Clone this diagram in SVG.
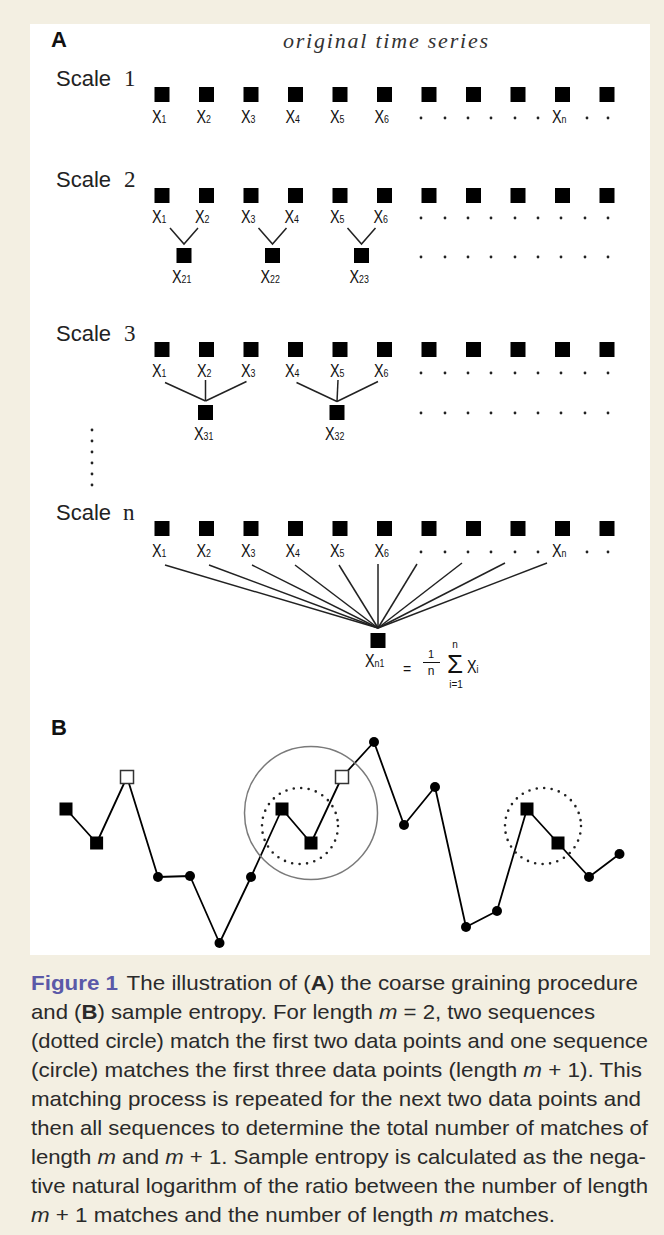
<svg xmlns="http://www.w3.org/2000/svg" xmlns:xlink="http://www.w3.org/1999/xlink" width="664" height="1235" viewBox="0 0 664 1235">
<style>
.lbl{font-family:"Liberation Sans",Arial,sans-serif;font-size:22px;fill:#222}
.num{font-family:"Liberation Serif","Times New Roman",serif;font-size:23px}
.xl{font-family:"Liberation Sans",Arial,sans-serif;font-size:18px;fill:#111}
.sub{font-size:11px}
.fm{font-family:"Liberation Sans",Arial,sans-serif;fill:#111}
.pan{font-family:"Liberation Sans",Arial,sans-serif;font-size:22px;font-weight:bold;fill:#111}
.cap{font-family:"Liberation Sans",Arial,sans-serif;font-size:21px;fill:#2a2a2a}
.fig{fill:#5b59a8;font-weight:bold}
.b{font-weight:bold}
.i{font-style:italic}
.ln{stroke:#222;stroke-width:1.5;fill:none}
</style>
<defs>
<rect id="s" x="-7.5" y="0" width="15" height="15" fill="#000"/>
<circle id="d" r="1.4" fill="#222"/>
<rect id="bs" x="-6.5" y="-6.5" width="13" height="13" fill="#000"/>
<rect id="bo" x="-6.5" y="-6.5" width="13" height="13" fill="#fff" stroke="#333" stroke-width="1.5"/>
<circle id="bc" r="5" fill="#000"/>
</defs>
<rect x="0" y="0" width="664" height="1235" fill="#f3efe2"/>
<rect x="30" y="24" width="620" height="931" fill="#ffffff"/>

<text class="pan" x="51" y="47">A</text>
<text x="283" y="48" font-family="Liberation Serif,Times New Roman,serif" font-style="italic" font-size="22" fill="#333" textLength="205" lengthAdjust="spacing">original time series</text>

<!-- Scale 1 -->
<g id="scale1">
<text class="lbl" x="56" y="86">Scale</text><text class="lbl num" x="124" y="86">1</text>
<g id="s1-nodes">
<use href="#s" x="162" y="87"/><use href="#s" x="206.5" y="87"/><use href="#s" x="251" y="87"/><use href="#s" x="295.5" y="87"/><use href="#s" x="340" y="87"/><use href="#s" x="384.5" y="87"/><use href="#s" x="429" y="87"/><use href="#s" x="473.5" y="87"/><use href="#s" x="518" y="87"/><use href="#s" x="562.5" y="87"/><use href="#s" x="607" y="87"/>
</g>
<g id="s1-labels">
<text class="xl" transform="matrix(0.8,0,0,1,152,123)">X<tspan class="sub">1</tspan></text>
<text class="xl" transform="matrix(0.8,0,0,1,196.5,123)">X<tspan class="sub">2</tspan></text>
<text class="xl" transform="matrix(0.8,0,0,1,241,123)">X<tspan class="sub">3</tspan></text>
<text class="xl" transform="matrix(0.8,0,0,1,285.5,123)">X<tspan class="sub">4</tspan></text>
<text class="xl" transform="matrix(0.8,0,0,1,330,123)">X<tspan class="sub">5</tspan></text>
<text class="xl" transform="matrix(0.8,0,0,1,374.5,123)">X<tspan class="sub">6</tspan></text>
<text class="xl" transform="matrix(0.8,0,0,1,552,123)">X<tspan class="sub">n</tspan></text>
<use href="#d" x="421" y="118"/><use href="#d" x="445" y="118"/><use href="#d" x="468" y="118"/><use href="#d" x="491" y="118"/><use href="#d" x="515" y="118"/><use href="#d" x="538" y="118"/><use href="#d" x="587" y="118"/><use href="#d" x="608" y="118"/>
</g>
</g>

<!-- Scale 2 -->
<g id="scale2">
<text class="lbl" x="56" y="187">Scale</text><text class="lbl num" x="124" y="187">2</text>
<g id="s2-nodes">
<use href="#s" x="162" y="188"/><use href="#s" x="206.5" y="188"/><use href="#s" x="251" y="188"/><use href="#s" x="295.5" y="188"/><use href="#s" x="340" y="188"/><use href="#s" x="384.5" y="188"/><use href="#s" x="429" y="188"/><use href="#s" x="473.5" y="188"/><use href="#s" x="518" y="188"/><use href="#s" x="562.5" y="188"/><use href="#s" x="607" y="188"/>
</g>
<g id="s2-labels">
<text class="xl" transform="matrix(0.8,0,0,1,152,223)">X<tspan class="sub">1</tspan></text>
<text class="xl" transform="matrix(0.8,0,0,1,195,223)">X<tspan class="sub">2</tspan></text>
<text class="xl" transform="matrix(0.8,0,0,1,241,223)">X<tspan class="sub">3</tspan></text>
<text class="xl" transform="matrix(0.8,0,0,1,284.5,223)">X<tspan class="sub">4</tspan></text>
<text class="xl" transform="matrix(0.8,0,0,1,330,223)">X<tspan class="sub">5</tspan></text>
<text class="xl" transform="matrix(0.8,0,0,1,373.5,223)">X<tspan class="sub">6</tspan></text>
<use href="#d" x="421" y="218"/><use href="#d" x="445" y="218"/><use href="#d" x="468" y="218"/><use href="#d" x="491" y="218"/><use href="#d" x="515" y="218"/><use href="#d" x="538" y="218"/><use href="#d" x="561" y="218"/><use href="#d" x="585" y="218"/><use href="#d" x="608" y="218"/>
</g>
<g id="x21"><use href="#s" x="184" y="248"/><text class="xl" transform="matrix(0.8,0,0,1,172,283)">X<tspan class="sub">21</tspan></text></g>
<g id="x22"><use href="#s" x="272.5" y="248"/><text class="xl" transform="matrix(0.8,0,0,1,260.5,283)">X<tspan class="sub">22</tspan></text></g>
<g id="x23"><use href="#s" x="361.5" y="248"/><text class="xl" transform="matrix(0.8,0,0,1,349.5,283)">X<tspan class="sub">23</tspan></text></g>
<g id="s2-dots2">
<use href="#d" x="421" y="257"/><use href="#d" x="445" y="257"/><use href="#d" x="468" y="257"/><use href="#d" x="491" y="257"/><use href="#d" x="515" y="257"/><use href="#d" x="538" y="257"/><use href="#d" x="561" y="257"/><use href="#d" x="585" y="257"/><use href="#d" x="608" y="257"/>
</g>
</g>

<!-- Scale 3 -->
<g id="scale3">
<text class="lbl" x="56" y="341">Scale</text><text class="lbl num" x="124" y="341">3</text>
<g id="s3-nodes">
<use href="#s" x="162" y="342"/><use href="#s" x="206.5" y="342"/><use href="#s" x="251" y="342"/><use href="#s" x="295.5" y="342"/><use href="#s" x="340" y="342"/><use href="#s" x="384.5" y="342"/><use href="#s" x="429" y="342"/><use href="#s" x="473.5" y="342"/><use href="#s" x="518" y="342"/><use href="#s" x="562.5" y="342"/><use href="#s" x="607" y="342"/>
</g>
<g id="s3-labels">
<text class="xl" transform="matrix(0.8,0,0,1,152,377)">X<tspan class="sub">1</tspan></text>
<text class="xl" transform="matrix(0.8,0,0,1,197,377)">X<tspan class="sub">2</tspan></text>
<text class="xl" transform="matrix(0.8,0,0,1,241,377)">X<tspan class="sub">3</tspan></text>
<text class="xl" transform="matrix(0.8,0,0,1,285,377)">X<tspan class="sub">4</tspan></text>
<text class="xl" transform="matrix(0.8,0,0,1,330,377)">X<tspan class="sub">5</tspan></text>
<text class="xl" transform="matrix(0.8,0,0,1,374,377)">X<tspan class="sub">6</tspan></text>
<use href="#d" x="421" y="373"/><use href="#d" x="445" y="373"/><use href="#d" x="468" y="373"/><use href="#d" x="491" y="373"/><use href="#d" x="515" y="373"/><use href="#d" x="538" y="373"/><use href="#d" x="561" y="373"/><use href="#d" x="585" y="373"/><use href="#d" x="608" y="373"/>
</g>
<g id="x31"><use href="#s" x="205.5" y="405"/><text class="xl" transform="matrix(0.8,0,0,1,194,440)">X<tspan class="sub">31</tspan></text></g>
<g id="x32"><use href="#s" x="337" y="405"/><text class="xl" transform="matrix(0.8,0,0,1,325,440)">X<tspan class="sub">32</tspan></text></g>
<g id="s3-dots2">
<use href="#d" x="421" y="413"/><use href="#d" x="445" y="413"/><use href="#d" x="468" y="413"/><use href="#d" x="491" y="413"/><use href="#d" x="515" y="413"/><use href="#d" x="538" y="413"/><use href="#d" x="561" y="413"/><use href="#d" x="585" y="413"/><use href="#d" x="608" y="413"/>
</g>
</g>

<g id="vdots">
<use href="#d" x="92" y="430"/><use href="#d" x="92" y="441"/><use href="#d" x="92" y="452"/><use href="#d" x="92" y="463"/><use href="#d" x="92" y="474"/><use href="#d" x="92" y="485"/>
</g>

<!-- Scale n -->
<g id="scalen">
<text class="lbl" x="56" y="520">Scale</text><text class="lbl num" x="123" y="520">n</text>
<g id="sn-nodes">
<use href="#s" x="162" y="521"/><use href="#s" x="206.5" y="521"/><use href="#s" x="251" y="521"/><use href="#s" x="295.5" y="521"/><use href="#s" x="340" y="521"/><use href="#s" x="384.5" y="521"/><use href="#s" x="429" y="521"/><use href="#s" x="473.5" y="521"/><use href="#s" x="518" y="521"/><use href="#s" x="562.5" y="521"/><use href="#s" x="607" y="521"/>
</g>
<g id="sn-labels">
<text class="xl" transform="matrix(0.8,0,0,1,152,557)">X<tspan class="sub">1</tspan></text>
<text class="xl" transform="matrix(0.8,0,0,1,196.5,557)">X<tspan class="sub">2</tspan></text>
<text class="xl" transform="matrix(0.8,0,0,1,241,557)">X<tspan class="sub">3</tspan></text>
<text class="xl" transform="matrix(0.8,0,0,1,285.5,557)">X<tspan class="sub">4</tspan></text>
<text class="xl" transform="matrix(0.8,0,0,1,330,557)">X<tspan class="sub">5</tspan></text>
<text class="xl" transform="matrix(0.8,0,0,1,374.5,557)">X<tspan class="sub">6</tspan></text>
<text class="xl" transform="matrix(0.8,0,0,1,552,557)">X<tspan class="sub">n</tspan></text>
<use href="#d" x="421" y="552"/><use href="#d" x="445" y="552"/><use href="#d" x="468" y="552"/><use href="#d" x="491" y="552"/><use href="#d" x="515" y="552"/><use href="#d" x="538" y="552"/><use href="#d" x="587" y="552"/><use href="#d" x="608" y="552"/>
</g>
<g id="xn1">
<use href="#s" x="378" y="633"/>
<text class="xl" transform="matrix(0.8,0,0,1,365,667)">X<tspan class="sub">n1</tspan></text>
<text class="fm" x="403" y="674" style="font-size:14px">=</text>
<text class="fm" x="431" y="658" text-anchor="middle" style="font-size:11px">1</text>
<line x1="423" y1="662.5" x2="440" y2="662.5" stroke="#111" stroke-width="1"/>
<text class="fm" x="431" y="675" text-anchor="middle" style="font-size:12px">n</text>
<text class="fm" x="455" y="673" text-anchor="middle" style="font-size:26px">Σ</text>
<text class="fm" x="455" y="648" text-anchor="middle" style="font-size:10px">n</text>
<text class="fm" x="456" y="688" text-anchor="middle" style="font-size:10px">i=1</text>
<text class="xl" transform="matrix(0.8,0,0,1,467,673)">X<tspan class="sub">i</tspan></text>
</g>
</g>

<g id="connectors">
<polyline class="ln" points="170,228 184,244 198,228"/>
<polyline class="ln" points="258.5,228 272.5,244 286.5,228"/>
<polyline class="ln" points="347.5,228 361.5,244 375.5,228"/>
<line class="ln" x1="165" y1="382.5" x2="205.5" y2="401"/>
<line class="ln" x1="205.5" y1="380" x2="205.5" y2="401"/>
<line class="ln" x1="246.5" y1="381.5" x2="205.5" y2="401"/>
<line class="ln" x1="296.5" y1="382.5" x2="337" y2="401.5"/>
<line class="ln" x1="338" y1="380" x2="337" y2="401.5"/>
<line class="ln" x1="378" y1="381.5" x2="337" y2="401.5"/>
<g>
<line class="ln" x1="165" y1="565" x2="378" y2="628"/>
<line class="ln" x1="209" y1="565" x2="378" y2="628"/>
<line class="ln" x1="252" y1="565" x2="378" y2="628"/>
<line class="ln" x1="295" y1="565" x2="378" y2="628"/>
<line class="ln" x1="339" y1="565" x2="378" y2="628"/>
<line class="ln" x1="378" y1="564" x2="378" y2="628"/>
<line class="ln" x1="417" y1="564" x2="378" y2="628"/>
<line class="ln" x1="462" y1="563" x2="378" y2="628"/>
<line class="ln" x1="505" y1="563" x2="378" y2="628"/>
<line class="ln" x1="547" y1="563" x2="378" y2="628"/>
</g>
</g>

<!-- Part B -->
<text class="pan" x="51" y="735">B</text>
<g id="b-series">
<polyline fill="none" stroke="#000" stroke-width="1.8" stroke-linejoin="round" points="66,809 96.6,843 127,777 158,877 190,876 219.5,943 251,877 282,809 311,843 342,777 374,742 404,825 435,787 466,927 497,911 527,809 558,843 589,877 619.5,854"/>
<g id="b-circle"><circle cx="311" cy="813" r="66.5" fill="none" stroke="#7a7a7a" stroke-width="1.5"/></g>
<g id="b-dot1"><circle cx="300" cy="826" r="38" fill="none" stroke="#222" stroke-width="2.6" stroke-linecap="round" stroke-dasharray="0 7.5"/></g>
<g id="b-dot2"><circle cx="543" cy="826" r="38" fill="none" stroke="#222" stroke-width="2.6" stroke-linecap="round" stroke-dasharray="0 7.5"/></g>
<use href="#bs" x="66" y="809"/><use href="#bs" x="96.6" y="843"/><use href="#bo" x="127" y="777"/>
<use href="#bc" x="158" y="877"/><use href="#bc" x="190" y="876"/><use href="#bc" x="219.5" y="943"/><use href="#bc" x="251" y="877"/>
<use href="#bs" x="282" y="809"/><use href="#bs" x="311" y="843"/><use href="#bo" x="342" y="777"/>
<use href="#bc" x="374" y="742"/><use href="#bc" x="404" y="825"/><use href="#bc" x="435" y="787"/><use href="#bc" x="466" y="927"/><use href="#bc" x="497" y="911"/>
<use href="#bs" x="527" y="809"/><use href="#bs" x="558" y="843"/>
<use href="#bc" x="589" y="877"/><use href="#bc" x="619.5" y="854"/>
</g>

<!-- Caption -->
<g id="caption">
<text class="cap" x="31" y="990" textLength="607" lengthAdjust="spacingAndGlyphs"><tspan class="fig">Figure 1</tspan><tspan dx="8">The illustration of (</tspan><tspan class="b">A</tspan>) the coarse graining procedure</text>
<text class="cap" x="31" y="1019" textLength="564" lengthAdjust="spacingAndGlyphs">and (<tspan class="b">B</tspan>) sample entropy. For length <tspan class="i">m</tspan> = 2, two sequences</text>
<text class="cap" x="31" y="1048" textLength="617" lengthAdjust="spacingAndGlyphs">(dotted circle) match the first two data points and one sequence</text>
<text class="cap" x="31" y="1077" textLength="611" lengthAdjust="spacingAndGlyphs">(circle) matches the first three data points (length <tspan class="i">m</tspan> + 1). This</text>
<text class="cap" x="31" y="1106" textLength="610" lengthAdjust="spacingAndGlyphs">matching process is repeated for the next two data points and</text>
<text class="cap" x="31" y="1135" textLength="617" lengthAdjust="spacingAndGlyphs">then all sequences to determine the total number of matches of</text>
<text class="cap" x="31" y="1164" textLength="615" lengthAdjust="spacingAndGlyphs">length <tspan class="i">m</tspan> and <tspan class="i">m</tspan> + 1. Sample entropy is calculated as the nega-</text>
<text class="cap" x="31" y="1193" textLength="617" lengthAdjust="spacingAndGlyphs">tive natural logarithm of the ratio between the number of length</text>
<text class="cap" x="31" y="1222" textLength="524" lengthAdjust="spacingAndGlyphs"><tspan class="i">m</tspan> + 1 matches and the number of length <tspan class="i">m</tspan> matches.</text>
</g>
</svg>
